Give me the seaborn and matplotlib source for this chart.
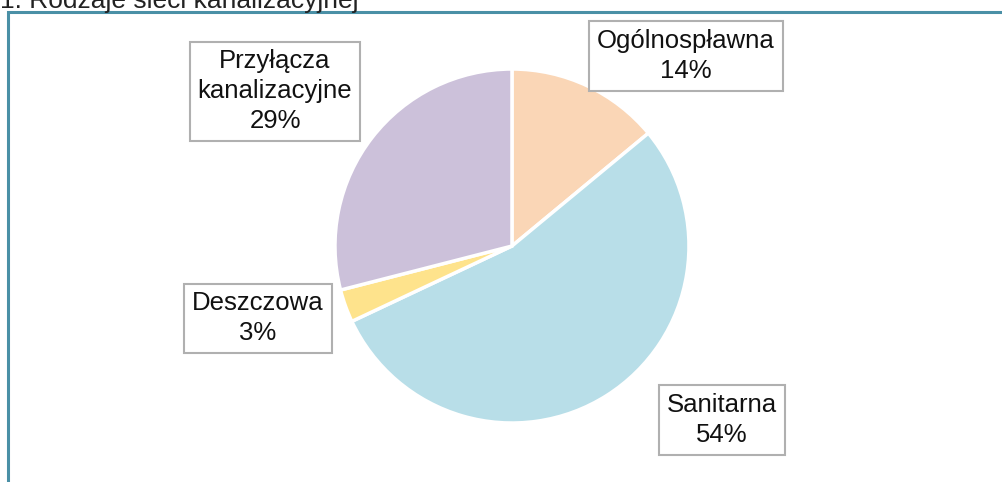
import matplotlib
matplotlib.use("Agg")
import matplotlib.pyplot as plt
import seaborn as sns
from matplotlib.patches import Rectangle

# data
categories = ['Ogólnospławna', 'Sanitarna', 'Deszczowa', 'Przyłącza\nkanalizacyjne']
shares = [14, 54, 3, 29]
colors = ['#FAD6B6', '#B8DEE8', '#FEE38C', '#CCC1DA']
title = '1. Rodzaje sieci kanalizacyjnej'

sns.set_theme(style='white')
plt.rcParams['font.family'] = ['Liberation Sans', 'DejaVu Sans']

fig = plt.figure(figsize=(10.02, 4.82), dpi=100)
fig.patch.set_facecolor('white')

# teal frame around the chart area (top and left visible)
frame = Rectangle((7.5 / 1002, -0.05), 1.1, 1 - 11.5 / 482 + 0.05, transform=fig.transFigure,
                  fill=False, edgecolor='#4A90A6', lw=2.2, clip_on=False)
fig.patches.append(frame)

# partially cut title at the very top
fig.text(0.0, 1 - 8 / 482, title, fontsize=19, color='#222222', va='baseline', ha='left')

# pie
ax = fig.add_axes([0.3343, 0.1224, 0.3533, 0.7344])
ax.pie(shares, colors=colors, startangle=90, counterclock=False,
       wedgeprops=dict(edgecolor='white', linewidth=2.5))
ax.set_xlim(-1, 1)
ax.set_ylim(-1, 1)
ax.set_aspect('equal')
ax.axis('off')

# label boxes
label_pos = [(0.6846, 0.8838), (0.7206, 0.1286), (0.2575, 0.340), (0.2745, 0.811)]
for name, val, (x, y) in zip(categories, shares, label_pos):
    fig.text(x, y, f'{name}\n{val}%', ha='center', va='center', fontsize=18.5,
             color='#111111', linespacing=1.3,
             bbox=dict(boxstyle='square,pad=0.3', facecolor='white',
                       edgecolor='#B0B0B0', linewidth=1.5))

fig.savefig('out.png', dpi=100, facecolor='white')
